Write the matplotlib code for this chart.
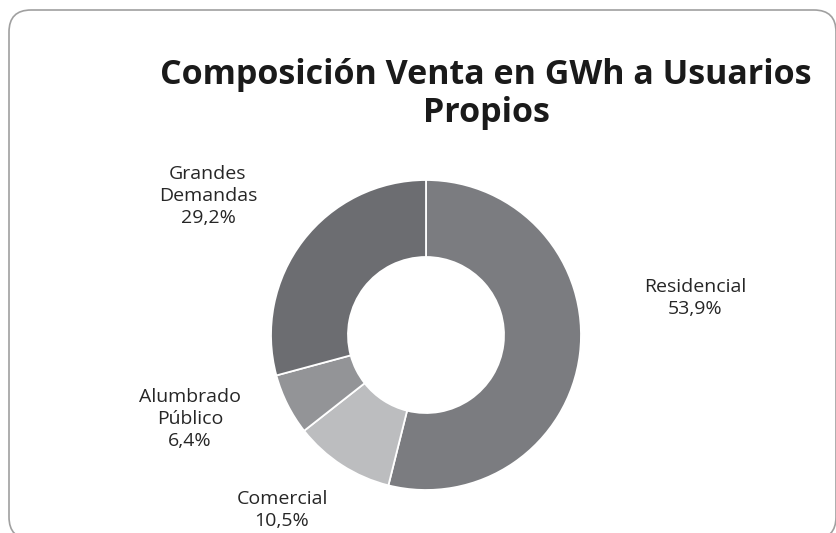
import matplotlib.pyplot as plt
from matplotlib.patches import FancyBboxPatch

# Datos del gráfico
categorias = ['Residencial', 'Comercial', 'Alumbrado\nPúblico', 'Grandes\nDemandas']
porcentajes = [53.9, 10.5, 6.4, 29.2]
colores = ['#7b7c80', '#bcbdbf', '#939497', '#6c6d71']
titulo = 'Composición Venta en GWh a Usuarios\nPropios'

# Posiciones de las etiquetas (en píxeles, origen arriba-izquierda)
pos_etiquetas = [(695, 298), (282, 510), (190, 419), (208, 196)]

W, H = 837, 533
fig = plt.figure(figsize=(W / 100, H / 100), dpi=100)
ax = fig.add_axes([0, 0, 1, 1])

# Marco redondeado
marco = FancyBboxPatch((9, -6), 827, 529, boxstyle='round,pad=0,rounding_size=22',
                       facecolor='white', edgecolor='#a0a0a0', linewidth=1.2, zorder=0)
ax.add_patch(marco)

# Dona
ax.pie(porcentajes, colors=colores, startangle=90, counterclock=False,
       center=(426, H - 335), radius=155,
       wedgeprops=dict(width=77, edgecolor='white', linewidth=1.3))
ax.set_xlim(0, W)
ax.set_ylim(0, H)
ax.set_aspect('equal')
ax.axis('off')

for cat, pct, (x, y) in zip(categorias, porcentajes, pos_etiquetas):
    texto = f"{cat}\n{pct:.1f}%".replace('.', ',')
    ax.text(x, H - y, texto, ha='center', va='center', fontsize=14,
            family='Open Sans', color='#262626', linespacing=1.3)

ax.text(486, H - 94, titulo, ha='center', va='center', fontsize=24.5,
        family='Open Sans', fontweight='bold', color='#1a1a1a', linespacing=1.17)

fig.savefig('out.png', dpi=100)
